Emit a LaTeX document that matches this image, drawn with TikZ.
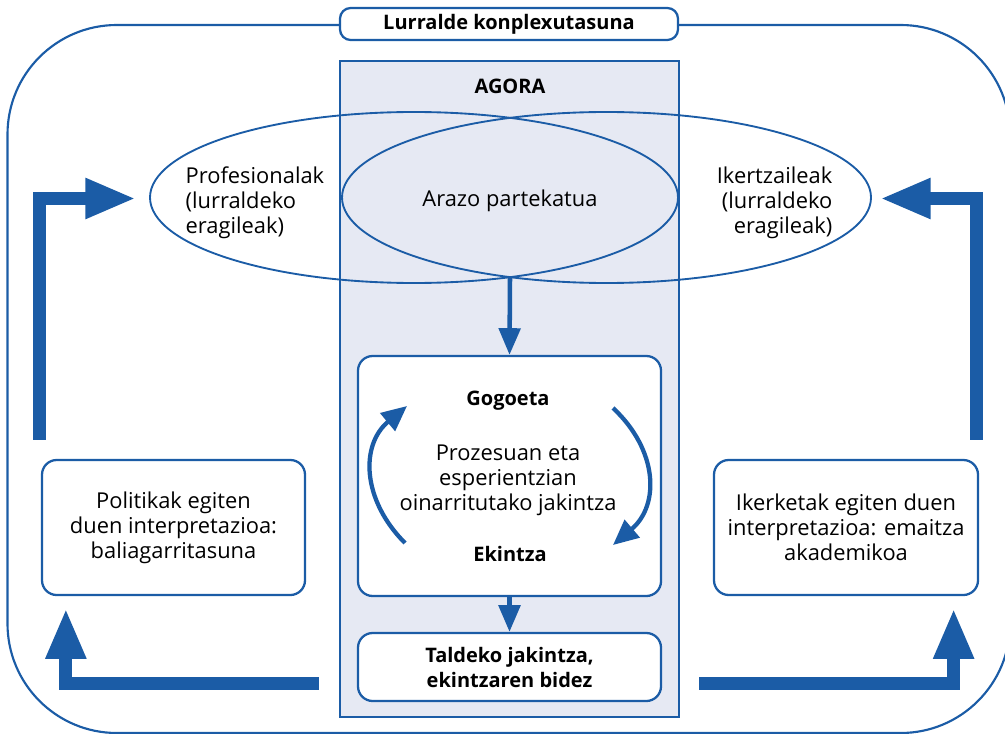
\documentclass[tikz,border=0pt]{standalone}
\usepackage{fontspec}
\setmainfont{Open Sans}
\usetikzlibrary{shapes.geometric,arrows.meta,positioning,calc}
\definecolor{agblue}{RGB}{27,92,166}
\definecolor{agfill}{RGB}{230,233,243}

\begin{document}
\begin{tikzpicture}[x=0.75pt,y=-0.75pt,
    font=\fontsize{16.4}{18.75}\selectfont,
    bold/.style={font=\fontsize{15}{18.75}\selectfont\bfseries},
    box/.style={draw=agblue, line width=1.7pt, fill=white, rounded corners=11pt, align=center},
    oval/.style={draw=agblue, line width=1.4pt, ellipse, inner sep=0pt},
    cycle arrow/.style={draw=agblue, line width=3.2pt, -{Triangle[length=19pt,width=17pt]}},
    down arrow/.style={draw=agblue, line width=3.4pt, -{Triangle[length=20pt,width=16pt]}},
    big arrow/.style={draw=agblue, line width=9.75pt, line join=miter, -{Triangle[length=38pt,width=28pt]}}]
    \useasboundingbox (0,0) rectangle (1005,734);
    % Frame
    \draw[agblue, line width=1.6pt, rounded corners=82pt] (7.5,25) rectangle (1010,733);
    \node[box, bold, rounded corners=8pt, minimum width=338*0.75pt, minimum height=32*0.75pt]
        (title) at (509,24) {Lurralde konplexutasuna};
    % Agora
    \node[draw=agblue, line width=1.7pt, fill=agfill, minimum width=339*0.75pt, minimum height=656*0.75pt, inner sep=0pt]
        (agora) at (509.5,389) {};
    \node[bold] (agoratxt) at (510,86) {AGORA};
    % Ellipses
    \node[oval, minimum width=528*0.75pt, minimum height=171*0.75pt] (prof) at (414,197.5) {};
    \node[oval, minimum width=529*0.75pt, minimum height=171*0.75pt] (iker) at (606.5,197.5) {};
    \node[ellipse, inner sep=0pt, minimum width=336*0.75pt, minimum height=159*0.75pt] (arazo) at (510,197.5) {};
    \node (arazotxt) at (510,201) {Arazo partekatua};
    \node[align=left, anchor=west] (proftxt) at (181,203) {Profesionalak\\(lurraldeko\\eragileak)};
    \node[align=right, anchor=east] (ikertxt) at (837,203) {Ikertzaileak\\(lurraldeko\\eragileak)};
    % Cycle
    \node[box, minimum width=303*0.75pt, minimum height=240*0.75pt] (zikloa) at (509.5,476) {};
    \node[bold] (gogoeta) at (508,401) {Gogoeta};
    \node[align=center] (jakintza) at (508,480) {Prozesuan eta\\esperientzian\\oinarritutako jakintza};
    \node[bold] (ekintza) at (510,554) {Ekintza};
    \coordinate (ekL) at (405,543);
    \coordinate (goL) at (407,406);
    \coordinate (goR) at (613,408);
    \coordinate (ekR) at (613,545);
    \draw[cycle arrow] (ekL) .. controls (362,500) and (360,445) .. (goL);
    \draw[cycle arrow] (goR) .. controls (658,450) and (660,505) .. (ekR);
    \node[box, bold, minimum width=303*0.75pt, minimum height=68*0.75pt]
        (taldeko) at (509.5,667) {Taldeko jakintza,\\ekintzaren bidez};
    \draw[down arrow] (arazo.south) -- (zikloa.north);
    \draw[down arrow] (zikloa.south) -- (taldeko.north);
    % Side boxes
    \node[box, minimum width=263*0.75pt, minimum height=135*0.75pt] (politika) at (173.5,527.5)
        {Politikak egiten\\duen interpretazioa:\\baliagarritasuna};
    \node[box, minimum width=264*0.75pt, minimum height=135*0.75pt] (ikerketa) at (846,527.5)
        {Ikerketak egiten duen\\interpretazioa: emaitza\\akademikoa};
    % Big arrows
    \draw[big arrow] ($(politika.north west)+(-1.5,-19)$) |- ($(prof.west)+(-13,1)$);
    \draw[big arrow] ($(ikerketa.north east)+(-2.5,-19)$) |- ($(iker.east)+(8,1)$);
    \draw[big arrow] ($(taldeko.west)+(-38,16.5)$) -| ($(politika.south west)+(25,12)$);
    \draw[big arrow] ($(taldeko.east)+(37,16.5)$) -| ($(ikerketa.south east)+(-25.5,12)$);
\end{tikzpicture}
\end{document}
